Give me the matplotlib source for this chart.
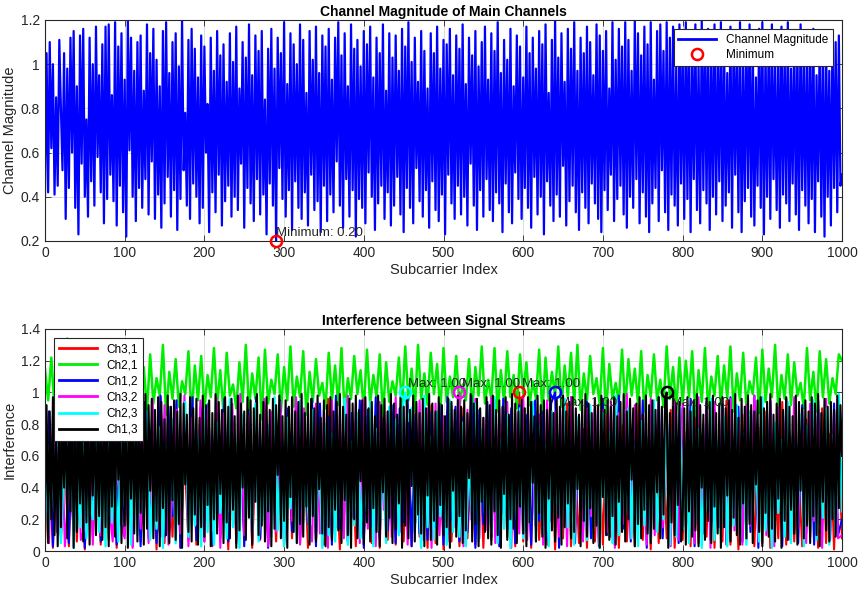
import numpy as np
import matplotlib
matplotlib.use('Agg')
from matplotlib import pyplot as plt

plt.rcParams['font.family'] = ['Liberation Sans', 'DejaVu Sans']

# channel magnitude of main channel, every 2nd subcarrier
mag = [0.40, 1.05, 0.42, 1.10, 0.62, 1.00, 0.41, 0.85, 0.45, 1.11, 0.80, 0.52, 1.05, 0.30, 0.98, 0.44, 1.12, 0.60, 1.15, 0.35,
       0.90, 0.23, 1.13, 0.55, 1.16, 0.40, 0.75, 0.31, 1.12, 0.47, 1.00, 0.36, 1.17, 0.58, 0.95, 0.42, 1.09, 0.28, 1.17, 0.39,
       1.18, 0.50, 0.86, 0.38, 1.19, 0.27, 1.08, 0.45, 1.14, 0.33, 0.93, 0.22, 1.20, 0.61, 1.12, 0.40, 0.97, 0.29, 1.10, 0.44,
       1.13, 0.35, 0.88, 0.48, 1.18, 0.32, 1.05, 0.56, 1.16, 0.30, 1.02, 0.41, 0.90, 0.26, 1.15, 0.37, 1.19, 0.49, 0.96, 0.31,
       1.10, 0.43, 1.14, 0.25, 0.99, 0.39, 1.20, 0.52, 0.78, 0.36, 1.11, 0.30, 1.16, 0.46, 1.07, 0.40, 0.94, 0.28, 1.13, 0.35,
       1.08, 0.60, 0.82, 0.24, 1.12, 0.42, 0.97, 0.33, 1.15, 0.50, 1.04, 0.27, 1.09, 0.38, 0.92, 0.45, 1.14, 0.31, 1.01, 0.40,
       1.17, 0.34, 0.89, 0.55, 1.10, 0.26, 1.03, 0.44, 1.18, 0.37, 0.95, 0.29, 1.13, 0.48, 1.06, 0.32, 1.15, 0.41, 0.84, 0.23,
       1.07, 0.46, 1.16, 0.36, 0.98, 0.20, 1.12, 0.53, 1.05, 0.39, 1.19, 0.31, 0.91, 0.43, 1.14, 0.25, 1.09, 0.47, 1.00, 0.35,
       1.18, 0.30, 1.11, 0.42, 0.87, 0.27, 1.15, 0.50, 1.02, 0.34, 1.17, 0.38, 0.96, 0.24, 1.13, 0.45, 1.08, 0.29, 1.16, 0.41,
       0.93, 0.33, 1.12, 0.56, 1.19, 0.36, 1.04, 0.26, 1.14, 0.48, 0.90, 0.31, 1.18, 0.43, 1.07, 0.22, 1.11, 0.39, 0.99, 0.35,
       1.15, 0.28, 1.09, 0.51, 1.17, 0.40, 0.94, 0.25, 1.12, 0.37, 1.05, 0.45, 1.18, 0.30, 0.88, 0.42, 1.14, 0.27, 1.03, 0.36,
       1.13, 0.49, 0.97, 0.32, 1.16, 0.24, 1.08, 0.44, 1.19, 0.35, 1.01, 0.28, 1.12, 0.53, 0.92, 0.38, 1.15, 0.31, 1.06, 0.43,
       0.89, 0.26, 1.14, 0.47, 1.05, 0.34, 1.17, 0.29, 0.98, 0.41, 1.11, 0.23, 1.09, 0.50, 1.16, 0.37, 0.95, 0.30, 1.13, 0.45,
       1.07, 0.32, 1.18, 0.40, 0.91, 0.27, 1.12, 0.55, 1.04, 0.36, 1.15, 0.25, 0.99, 0.43, 1.10, 0.31, 1.17, 0.48, 0.93, 0.34,
       1.14, 0.29, 1.06, 0.42, 1.19, 0.37, 0.96, 0.24, 1.11, 0.46, 1.02, 0.33, 1.16, 0.28, 0.90, 0.51, 1.13, 0.39, 1.08, 0.30,
       0.94, 0.44, 1.17, 0.35, 1.05, 0.26, 1.12, 0.49, 0.98, 0.32, 1.15, 0.40, 1.09, 0.23, 1.18, 0.47, 0.87, 0.36, 1.11, 0.29,
       1.20, 0.41, 1.03, 0.31, 1.14, 0.54, 0.92, 0.27, 1.16, 0.38, 1.07, 0.45, 1.19, 0.33, 0.97, 0.25, 1.12, 0.42, 1.05, 0.35,
       1.17, 0.28, 1.10, 0.46, 0.95, 0.37, 1.18, 0.30, 1.13, 0.24, 1.06, 0.43, 1.15, 0.34, 0.89, 0.50, 1.19, 0.29, 1.02, 0.39,
       1.16, 0.45, 1.08, 0.32, 1.19, 0.26, 1.11, 0.40, 0.97, 0.35, 1.20, 0.48, 1.14, 0.28, 1.04, 0.42, 1.17, 0.31, 1.09, 0.24,
       1.19, 0.37, 0.93, 0.44, 1.15, 0.29, 1.18, 0.52, 1.06, 0.33, 1.19, 0.25, 1.12, 0.41, 1.17, 0.36, 0.99, 0.27, 1.18, 0.46,
       1.10, 0.30, 1.19, 0.39, 1.14, 0.24, 1.07, 0.48, 1.18, 0.34, 1.01, 0.28, 1.20, 0.43, 1.13, 0.37, 1.16, 0.25, 1.09, 0.40,
       1.18, 0.32, 1.05, 0.47, 1.19, 0.29, 1.12, 0.36, 0.96, 0.42, 1.17, 0.26, 1.14, 0.50, 1.08, 0.33, 1.19, 0.24, 1.03, 0.38,
       1.15, 0.44, 1.18, 0.31, 1.10, 0.27, 0.94, 0.45, 1.16, 0.35, 1.19, 0.23, 1.07, 0.40, 1.13, 0.30, 1.18, 0.48, 1.00, 0.34,
       1.12, 0.26, 1.17, 0.41, 1.06, 0.37, 1.19, 0.29, 0.98, 0.46, 1.14, 0.32, 1.09, 0.25, 1.18, 0.43, 1.02, 0.36, 1.15, 0.28,
       1.08, 0.39, 1.16, 0.24, 0.95, 0.47, 1.13, 0.31, 1.05, 0.22, 1.12, 0.40, 0.97, 0.27, 1.14, 0.44, 1.10, 0.33, 1.13, 0.45,
       0.50]

# interference between streams
ch31 = [0.05, 0.60, 0.02, 0.75, 0.08, 0.55, 0.03, 0.80, 0.06, 0.65, 0.01, 0.70, 0.09, 0.58, 0.04, 0.85, 0.07, 0.62, 0.02, 0.78,
        0.10, 0.66, 0.03, 0.90, 0.06, 0.52, 0.08, 0.74, 0.01, 0.97, 0.05, 0.69, 0.09, 0.83, 0.02, 0.60, 0.07, 0.77, 0.04, 0.88,
        0.06, 0.72, 0.03, 0.95, 0.08, 0.57, 0.01, 0.81, 0.05, 0.64, 0.09, 0.86, 0.02, 0.68, 0.07, 0.93, 0.04, 0.59, 0.06, 0.79,
        0.03, 0.73, 0.08, 0.91, 0.05, 0.63, 0.02, 0.84, 0.07, 0.70, 0.04, 0.96, 0.09, 0.56, 0.01, 0.82, 0.06, 0.67, 0.03, 0.89,
        0.08, 0.61, 0.05, 0.76, 0.02, 0.94, 0.07, 0.58, 0.04, 0.80, 0.06, 0.71, 0.03, 0.87, 0.09, 0.65, 0.02, 0.92, 0.05, 0.74,
        0.01, 0.85, 0.06, 0.62, 0.03, 0.90, 0.08, 0.57, 0.04, 0.78, 0.02, 0.69, 0.07, 0.95, 0.05, 0.60, 0.09, 0.83, 0.03, 1.00,
        0.06, 0.73, 0.02, 0.88, 0.07, 0.55, 0.04, 0.81, 0.01, 0.66, 0.08, 0.93, 0.03, 0.59, 0.05, 0.77, 0.02, 0.86, 0.06, 0.64,
        0.04, 0.91, 0.09, 0.68, 0.02, 0.79, 0.06, 0.57, 0.03, 0.97, 0.07, 0.62, 0.01, 0.84, 0.05, 0.71, 0.08, 0.89, 0.02, 0.60,
        0.07, 0.75, 0.03, 0.92, 0.05, 0.58, 0.09, 0.82, 0.02, 0.67, 0.06, 0.95, 0.04, 0.63, 0.01, 0.86, 0.07, 0.70, 0.03, 0.78,
        0.05, 0.88, 0.02, 0.61, 0.08, 0.94, 0.04, 0.72, 0.06, 0.56, 0.03, 0.83, 0.09, 0.65, 0.02, 0.90, 0.05, 0.74, 0.01, 0.80,
        0.08]

ch21 = [1.15, 0.95, 1.22, 0.90, 1.05, 0.98, 1.12, 1.34, 0.88, 1.20, 0.93, 1.10, 0.85, 1.25, 0.96, 1.18, 0.91, 1.08, 0.99, 1.23,
        0.87, 1.12, 0.94, 1.19, 0.82, 1.27, 0.97, 1.06, 0.90, 1.29, 0.95, 1.16, 0.88, 1.24, 0.93, 1.09, 0.98, 1.30, 0.86, 1.13,
        0.96, 1.21, 0.91, 1.07, 0.99, 1.26, 0.84, 1.17, 0.95, 1.23, 0.89, 1.11, 0.97, 1.28, 0.92, 1.14, 0.87, 1.25, 0.98, 1.05,
        0.90, 1.19, 0.94, 1.30, 0.89, 1.12, 0.96, 1.22, 0.83, 1.27, 0.93, 1.08, 0.99, 1.24, 0.88, 1.16, 0.95, 1.29, 0.91, 1.10,
        0.97, 1.26, 0.86, 1.13, 0.94, 1.21, 0.98, 1.06, 0.90, 1.25, 0.95, 1.17, 0.92, 1.28, 0.87, 1.09, 0.96, 1.23, 0.99, 1.14,
        0.89, 1.27, 0.93, 1.11, 0.97, 1.24, 0.85, 1.19, 0.94, 1.07, 0.98, 1.22, 0.90, 1.29, 0.95, 1.15, 0.88, 1.30, 0.96, 1.12,
        0.92, 1.25, 0.99, 1.18, 0.87, 1.28, 0.94, 1.10, 0.97, 1.23, 0.91, 1.05, 0.95, 1.21, 0.89, 1.16, 0.98, 1.29, 0.93, 1.08,
        0.96, 1.28, 0.88, 1.14, 0.94, 1.26, 0.97, 1.11, 0.90, 1.24, 0.99, 1.19, 0.92, 1.07, 0.96, 1.27, 0.86, 1.22, 0.95, 1.13,
        0.98, 1.29, 0.91, 1.17, 0.97, 1.25, 0.93, 1.30, 0.89, 1.12, 0.95, 1.23, 0.99, 1.09, 0.92, 1.28, 0.87, 1.18, 0.96, 1.06,
        0.94, 1.27, 0.90, 1.21, 0.98, 1.15, 0.93, 1.26, 0.88, 1.11, 0.97, 1.24, 0.95, 1.08, 0.91, 1.29, 0.96, 1.16, 0.89, 1.22,
        0.93, 1.20, 0.97, 1.26, 0.85, 1.14, 0.94, 1.28, 0.90, 1.10, 0.98, 1.23, 0.92, 1.17, 0.96, 1.29, 0.88, 1.12, 0.95, 1.25,
        0.91, 1.07, 0.99, 1.22, 0.87, 1.27, 0.94, 1.15, 0.97, 1.30, 0.89, 1.11, 0.96, 1.24, 0.92, 1.19, 0.98, 1.06, 0.90, 1.28,
        0.95, 1.13, 0.88, 1.26, 0.97, 1.21, 0.93, 1.09, 0.99, 1.24,
        1.20]

ch12 = [0.20, 0.88, 0.03, 0.92, 0.10, 0.75, 0.05, 0.95, 0.15, 0.82, 0.02, 0.90, 0.18, 0.97, 0.06, 0.85, 0.25, 0.93, 0.04, 0.89,
        0.12, 0.96, 0.08, 0.80, 0.03, 0.94, 0.16, 0.87, 0.05, 0.98, 0.09, 0.91, 0.22, 0.95, 0.02, 0.84, 0.13, 0.97, 0.07, 0.90,
        0.18, 0.93, 0.04, 0.88, 0.11, 0.96, 0.06, 0.82, 0.24, 0.94, 0.03, 0.89, 0.15, 0.97, 0.08, 0.92, 0.02, 0.86, 0.19, 0.95,
        0.05, 0.90, 0.12, 0.94, 0.07, 0.88, 0.17, 0.96, 0.03, 0.93, 0.10, 0.85, 0.04, 0.98, 0.14, 0.91, 0.06, 0.87, 0.21, 0.95,
        0.02, 0.89, 0.16, 0.97, 0.08, 0.84, 0.13, 0.92, 0.05, 0.90, 0.18, 0.96, 0.03, 0.86, 0.11, 0.94, 0.07, 0.88, 0.15, 0.93,
        0.04, 0.97, 0.20, 0.91, 0.06, 0.85, 0.12, 0.98, 0.02, 0.89, 0.17, 0.94, 0.09, 0.87, 0.03, 0.96, 0.14, 0.90, 0.05, 0.92,
        0.11, 0.86, 0.04, 0.95, 0.19, 0.88, 0.07, 0.93, 1.00, 0.02, 0.90, 0.16, 0.97, 0.05, 0.84, 0.13, 0.94, 0.08, 0.89, 0.03,
        0.96, 0.10, 0.85, 0.04, 0.98, 0.14, 0.91, 0.06, 0.87, 0.21, 0.95, 0.02, 0.89, 0.16, 0.97, 0.08, 0.84, 0.13, 0.92, 0.05,
        0.90, 0.18, 0.96, 0.03, 0.86, 0.11, 0.94, 0.07, 0.88, 0.15, 0.93, 0.04, 0.97, 0.20, 0.91, 0.06, 0.85, 0.12, 0.98, 0.02,
        0.89, 0.17, 0.94, 0.09, 0.87, 0.03, 0.96, 0.14, 0.90, 0.05, 0.92, 0.11, 0.86, 0.04, 0.95, 0.19, 0.88, 0.07, 0.93, 0.10,
        0.20]

ch32 = [0.90, 0.05, 0.85, 0.12, 0.95, 0.03, 0.40, 0.20, 0.88, 0.07, 0.15, 0.93, 0.04, 0.80, 0.10, 0.97, 0.30, 0.06, 0.91, 0.18,
        0.08, 0.86, 0.02, 0.94, 0.14, 0.78, 0.05, 0.96, 0.22, 0.09, 0.92, 0.04, 0.35, 0.89, 0.11, 0.98, 0.03, 0.84, 0.17, 0.95,
        0.06, 0.90, 0.13, 0.97, 0.02, 0.87, 0.25, 0.93, 0.08, 0.99, 0.10, 0.85, 0.05, 0.91, 0.16, 0.96, 0.03, 0.88, 0.12, 0.94,
        0.07, 0.82, 0.19, 0.97, 0.04, 0.90, 0.28, 0.06, 0.93, 0.11, 0.89, 0.02, 0.95, 0.15, 0.86, 0.08, 0.98, 0.21, 0.92, 0.05,
        0.96, 0.14, 0.83, 0.03, 0.94, 0.26, 0.88, 0.09, 0.97, 0.12, 0.91, 0.04, 0.87, 0.18, 0.95, 0.07, 0.90, 0.02, 0.93, 0.10,
        0.85, 0.06, 0.92, 0.15, 1.00, 0.03, 0.89, 0.20, 0.96, 0.08, 0.84, 0.13, 0.97, 0.05, 0.90, 0.24, 0.94, 0.02, 0.87, 0.11,
        0.98, 0.07, 0.91, 0.16, 0.86, 0.04, 0.95, 0.19, 0.88, 0.09, 0.93, 0.03, 0.97, 0.14, 0.82, 0.06, 0.90, 0.22, 0.96, 0.05,
        0.89, 0.12, 0.94, 0.02, 0.87, 0.17, 0.99, 0.08, 0.92, 0.25, 0.85, 0.04, 0.96, 0.10, 0.91, 0.15, 0.88, 0.03, 0.95, 0.07,
        0.93, 0.18, 0.86, 0.05, 0.97, 0.11, 0.90, 0.02, 0.94, 0.20, 0.88, 0.09, 0.96, 0.13, 0.83, 0.04, 0.92, 0.16, 0.98, 0.06,
        0.87, 0.10, 0.95, 0.03, 0.91, 0.23, 0.89, 0.07, 0.97, 0.14, 0.84, 0.05, 0.93, 0.19, 0.90, 0.02, 0.96, 0.12, 0.88, 0.08,
        0.10]

ch23 = [0.85, 0.10, 0.70, 0.25, 0.95, 0.05, 0.60, 0.30, 0.90, 0.02, 0.55, 0.15, 0.80, 0.08, 0.40, 0.20, 0.75, 0.12, 0.65, 0.03,
        0.92, 0.18, 0.50, 0.06, 0.85, 0.28, 0.70, 0.04, 0.98, 0.10, 0.60, 0.22, 0.88, 0.07, 0.45, 0.14, 0.78, 0.02, 0.66, 0.19,
        0.83, 0.05, 0.57, 0.26, 0.94, 0.09, 0.48, 0.16, 0.72, 0.03, 0.90, 0.12, 0.63, 0.04, 0.81, 0.24, 0.52, 0.08, 0.96, 0.15,
        0.68, 0.02, 0.86, 0.20, 0.58, 0.11, 0.93, 0.06, 0.44, 0.17, 0.79, 0.09, 0.97, 0.13, 0.62, 0.03, 0.84, 0.27, 0.71, 0.05,
        0.95, 0.18, 0.53, 0.07, 0.89, 0.14, 0.66, 0.02, 0.80, 0.10, 0.74, 0.06, 0.58, 0.21, 0.96, 0.04, 0.69, 0.16, 0.87, 0.08,
        0.51, 0.25, 0.94, 0.03, 0.77, 0.13, 0.60, 0.05, 0.91, 0.19, 0.83, 0.10, 0.88, 1.00, 0.82, 0.90, 0.12, 0.47, 0.02, 0.98,
        0.15, 0.72, 0.07, 0.88, 0.22, 0.56, 0.04, 0.95, 0.12, 0.64, 0.09, 0.81, 0.03, 0.59, 0.17, 0.93, 0.06, 0.76, 0.24, 0.49,
        0.11, 0.97, 0.05, 0.70, 0.14, 0.86, 0.02, 0.62, 0.20, 0.90, 0.08, 0.55, 0.18, 0.94, 0.06, 0.79, 0.11, 0.67, 0.03, 0.88,
        0.21, 0.73, 0.09, 0.96, 0.15, 0.52, 0.04, 0.84, 0.26, 0.61, 0.07, 0.92, 0.13, 0.68, 0.02, 0.87, 0.19, 0.75, 0.05, 0.98,
        0.10, 0.57, 0.23, 0.90, 0.08, 0.66, 0.03, 0.82, 0.16, 0.71, 0.06, 0.95, 0.12, 0.54, 0.20, 0.89, 0.04, 0.78, 0.09, 0.93,
        0.14, 0.63, 0.05, 0.91, 0.18, 0.77, 0.02, 0.58, 0.22, 0.96, 0.07, 0.69, 0.11, 0.85, 0.03, 0.60, 0.16, 0.92, 0.08, 0.74,
        0.04, 0.88, 0.19, 0.65, 0.06, 0.97, 0.13, 0.53, 0.02, 0.81, 0.24, 0.70, 0.09, 0.94, 0.05, 0.62, 0.17, 0.86, 0.03, 0.79,
        0.12, 0.95, 0.07, 0.56, 0.21, 0.90, 0.04, 0.73, 0.10, 0.99,
        0.25]

ch13 = [0.30, 0.92, 0.05, 0.88, 0.20, 0.97, 0.10, 0.75, 0.03, 0.95, 0.15, 0.85, 0.40, 0.99, 0.08, 0.90, 0.25, 0.94, 0.02, 0.86,
        0.12, 0.96, 0.30, 0.80, 0.06, 0.93, 0.18, 0.98, 0.04, 0.89, 0.35, 0.95, 0.10, 0.84, 0.22, 0.97, 0.07, 0.91, 0.15, 0.99,
        0.03, 0.87, 0.28, 0.94, 0.09, 0.96, 0.45, 0.82, 0.05, 0.98, 0.16, 0.90, 0.02, 0.95, 0.33, 0.88, 0.11, 0.97, 0.06, 0.93,
        0.24, 0.85, 0.04, 0.99, 0.14, 0.92, 0.38, 0.96, 0.08, 0.89, 0.19, 0.97, 0.03, 0.94, 0.27, 0.83, 0.10, 0.98, 0.05, 0.91,
        0.32, 0.95, 0.07, 0.88, 0.17, 0.99, 0.02, 0.93, 0.42, 0.86, 0.12, 0.97, 0.06, 0.90, 0.23, 0.96, 0.04, 0.84, 0.15, 0.98,
        0.09, 0.92, 0.29, 0.95, 0.03, 0.87, 0.20, 0.99, 0.11, 0.94, 0.36, 0.89, 0.05, 0.97, 0.18, 0.91, 0.08, 0.96, 0.26, 0.85,
        0.02, 0.98, 0.13, 0.93, 0.40, 0.88, 0.07, 0.97, 0.21, 0.95, 0.04, 0.90, 0.31, 0.99, 0.10, 0.86, 0.16, 0.94, 0.06, 0.97,
        0.25, 0.89, 0.03, 0.96, 0.14, 0.92, 0.48, 0.98, 0.08, 0.85, 0.19, 0.95, 0.02, 0.91, 0.34, 0.97, 0.12, 0.88, 0.05, 0.94,
        0.17, 0.99, 0.09, 0.87, 0.28, 0.93, 0.04, 0.96, 0.22, 0.90, 0.06, 0.98, 0.39, 0.84, 0.11, 0.95, 0.03, 0.92, 0.15, 0.97,
        0.07, 0.88, 0.26, 0.94, 0.13, 0.99, 0.05, 0.91, 0.32, 0.86, 0.10, 0.96, 0.02, 0.93, 0.20, 0.98, 0.08, 0.89, 0.44, 0.95,
        0.04, 0.97, 0.18, 0.90, 0.06, 0.94, 0.27, 0.85, 0.12, 0.98, 0.03, 0.92, 0.37, 0.96, 0.09, 0.88, 0.21, 0.99, 0.05, 0.93,
        0.14, 0.86, 0.30, 0.97, 0.02, 0.91, 0.16, 0.95, 0.08, 0.89, 0.41, 0.98, 0.06, 0.94, 0.23, 0.87, 0.11, 0.96, 0.03, 0.90,
        0.35, 0.99, 0.07, 0.93, 0.19, 0.88, 0.04, 0.97, 0.29, 0.92, 0.10, 0.85, 0.15, 0.96, 0.02, 0.94, 0.38, 0.89, 0.09, 0.98,
        0.22, 0.91, 0.05, 0.95, 0.13, 0.87, 0.46, 0.99, 0.06, 0.93, 0.17, 0.96, 0.03, 0.90, 0.31, 0.84, 0.12, 0.97, 0.08, 0.92,
        0.04, 0.98, 0.25, 0.89, 0.10, 0.95, 0.02, 0.91, 0.36, 0.97, 0.07, 0.86, 0.20, 0.99, 0.14, 0.93, 0.05, 0.88, 0.28, 0.96,
        0.11, 0.90, 0.03, 0.97, 0.18, 0.94, 0.43, 0.85, 0.06, 0.98, 0.24, 0.92, 0.09, 0.95, 0.02, 0.89, 0.33, 0.99, 0.13, 0.87,
        0.06, 0.96, 0.21, 0.91, 0.04, 0.98, 0.15, 0.88, 0.30, 0.94, 0.08, 0.97, 0.12, 0.90, 0.39, 0.86, 0.03, 0.95, 0.19, 0.99,
        0.09, 0.93, 0.27, 0.87, 0.05, 0.96, 0.16, 0.92, 0.02, 0.98, 0.34, 0.89, 0.10, 0.95, 0.07, 0.91, 0.22, 0.97, 0.04, 0.85,
        0.31, 0.94, 0.12, 0.99, 0.06, 0.88, 0.20, 0.96, 0.45, 0.90, 0.03, 0.93, 0.17, 0.97, 0.08, 0.86, 0.26, 0.98, 0.11, 0.92,
        0.05, 0.95, 0.14, 0.89, 0.37, 0.97, 0.08, 0.91, 0.23, 0.96, 1.00, 0.02, 0.87, 0.18, 0.99, 0.10, 0.93, 0.29, 0.94, 0.06,
        0.16, 0.90, 0.04, 0.97, 0.25, 0.88, 0.09, 0.95, 0.13, 0.99, 0.03, 0.92, 0.40, 0.86, 0.07, 0.96, 0.19, 0.94, 0.05, 0.98,
        0.28, 0.87, 0.11, 0.93, 0.02, 0.97, 0.15, 0.90, 0.35, 0.95, 0.06, 0.89, 0.21, 0.99, 0.10, 0.84, 0.04, 0.96, 0.30, 0.91,
        0.08, 0.98, 0.17, 0.92, 0.05, 0.88, 0.42, 0.95, 0.12, 0.97, 0.03, 0.90, 0.24, 0.94, 0.09, 0.99, 0.14, 0.86, 0.06, 0.93,
        0.33, 0.96, 0.02, 0.89, 0.19, 0.97, 0.07, 0.91, 0.26, 0.85, 0.11, 0.98, 0.04, 0.94, 0.38, 0.90, 0.08, 0.95, 0.16, 0.88,
        0.05, 0.97, 0.22, 0.93, 0.10, 0.99, 0.03, 0.87, 0.31, 0.96, 0.13, 0.91, 0.06, 0.94, 0.20, 0.89, 0.09, 0.98, 0.27, 0.92,
        0.60]

names = ['Ch3,1', 'Ch2,1', 'Ch1,2', 'Ch3,2', 'Ch2,3', 'Ch1,3']
values = [ch31, ch21, ch12, ch32, ch23, ch13]
steps = [5, 4, 5, 5, 4, 2]          # subcarrier spacing of each stored series
colors = ['#ff0000', '#00ee00', '#0000ff', '#ff00ff', '#00ffff', '#000000']
widths = [1.5, 1.8, 1.5, 1.5, 1.7, 1.5]
# which maxima get a marker, and where their label sits
show_max = [True, False, True, True, True, True]
label_pos = ['top', None, 'below', 'top', 'top', 'below']

txtcol = '#262626'

fig = plt.figure(figsize=(8.58, 5.93), dpi=100)


def style(ax):
    ax.grid(True, color='#dcdcdc', lw=0.7)
    ax.set_axisbelow(True)
    ax.tick_params(direction='in', top=True, right=True, length=4,
                   labelsize=10, colors=txtcol, width=0.6)
    for s in ax.spines.values():
        s.set_color('#262626')
        s.set_linewidth(0.8)


# top plot
ax1 = fig.add_axes([0.0524, 0.5936, 0.9290, 0.3727])
xm = np.arange(len(mag)) * 2
ax1.plot(xm, mag, color='#0000ff', lw=1.6, label='Channel Magnitude')
imin = int(np.argmin(mag))
ax1.plot(xm[imin], mag[imin], 'o', mfc='none', mec='#ff0000', ms=8,
         mew=1.8, label='Minimum', clip_on=False, zorder=5)
ax1.text(xm[imin], mag[imin] + 0.01, 'Minimum: %.2f' % mag[imin],
         fontsize=9.5, color=txtcol, ha='left', va='bottom')
ax1.set_xlim(0, 1000)
ax1.set_ylim(0.2, 1.2)
ax1.set_xticks(range(0, 1001, 100))
ax1.set_yticks([0.2, 0.4, 0.6, 0.8, 1.0, 1.2])
ax1.set_yticklabels(['0.2', '0.4', '0.6', '0.8', '1', '1.2'])
style(ax1)
ax1.set_title('Channel Magnitude of Main Channels', fontsize=10,
              fontweight='bold', pad=3)
ax1.set_xlabel('Subcarrier Index', fontsize=10.5, color=txtcol, labelpad=2)
ax1.set_ylabel('Channel Magnitude', fontsize=10.5, color=txtcol, labelpad=3)
leg1 = ax1.legend(loc='upper right', fontsize=8.5, fancybox=False,
                  framealpha=1, edgecolor='#262626', handlelength=3.2,
                  borderaxespad=0.8, labelspacing=0.25)
leg1.get_frame().set_linewidth(0.8)
for h in leg1.get_lines()[:1]:
    h.set_linewidth(2)

# bottom plot
ax2 = fig.add_axes([0.0524, 0.0708, 0.9290, 0.3744])
for ys, st, nm, c, w in zip(values, steps, names, colors, widths):
    ax2.plot(np.arange(len(ys)) * st, ys, color=c, lw=w, label=nm)
for ys, st, c, sm, pos in zip(values, steps, colors, show_max, label_pos):
    if not sm:
        continue
    k = int(np.argmax(ys))
    xk = k * st
    ax2.plot(xk, ys[k], 'o', mfc='none', mec=c, ms=8, mew=1.8, zorder=6)
    if pos == 'top':
        ax2.text(xk + 3, ys[k] + 0.015, 'Max: %.2f' % ys[k], fontsize=9.5,
                 color=txtcol, ha='left', va='bottom', zorder=7)
    else:
        ax2.text(xk + 5, ys[k] - 0.03, 'Max: %.2f' % ys[k], fontsize=9.5,
                 color=txtcol, ha='left', va='top', zorder=7)
ax2.set_xlim(0, 1000)
ax2.set_ylim(0, 1.4)
ax2.set_xticks(range(0, 1001, 100))
ax2.set_yticks([0, 0.2, 0.4, 0.6, 0.8, 1.0, 1.2, 1.4])
ax2.set_yticklabels(['0', '0.2', '0.4', '0.6', '0.8', '1', '1.2', '1.4'])
style(ax2)
ax2.set_title('Interference between Signal Streams', fontsize=10,
              fontweight='bold', pad=3)
ax2.set_xlabel('Subcarrier Index', fontsize=10.5, color=txtcol, labelpad=2)
ax2.set_ylabel('Interference', fontsize=10.5, color=txtcol, labelpad=3)
leg2 = ax2.legend(loc='upper left', fontsize=8.5, fancybox=False,
                  framealpha=1, edgecolor='#262626', handlelength=3.2,
                  borderaxespad=0.8, labelspacing=0.35)
leg2.get_frame().set_linewidth(0.8)
leg2.set_zorder(10)
for h in leg2.get_lines():
    h.set_linewidth(2)

plt.savefig('out.png', dpi=100)
